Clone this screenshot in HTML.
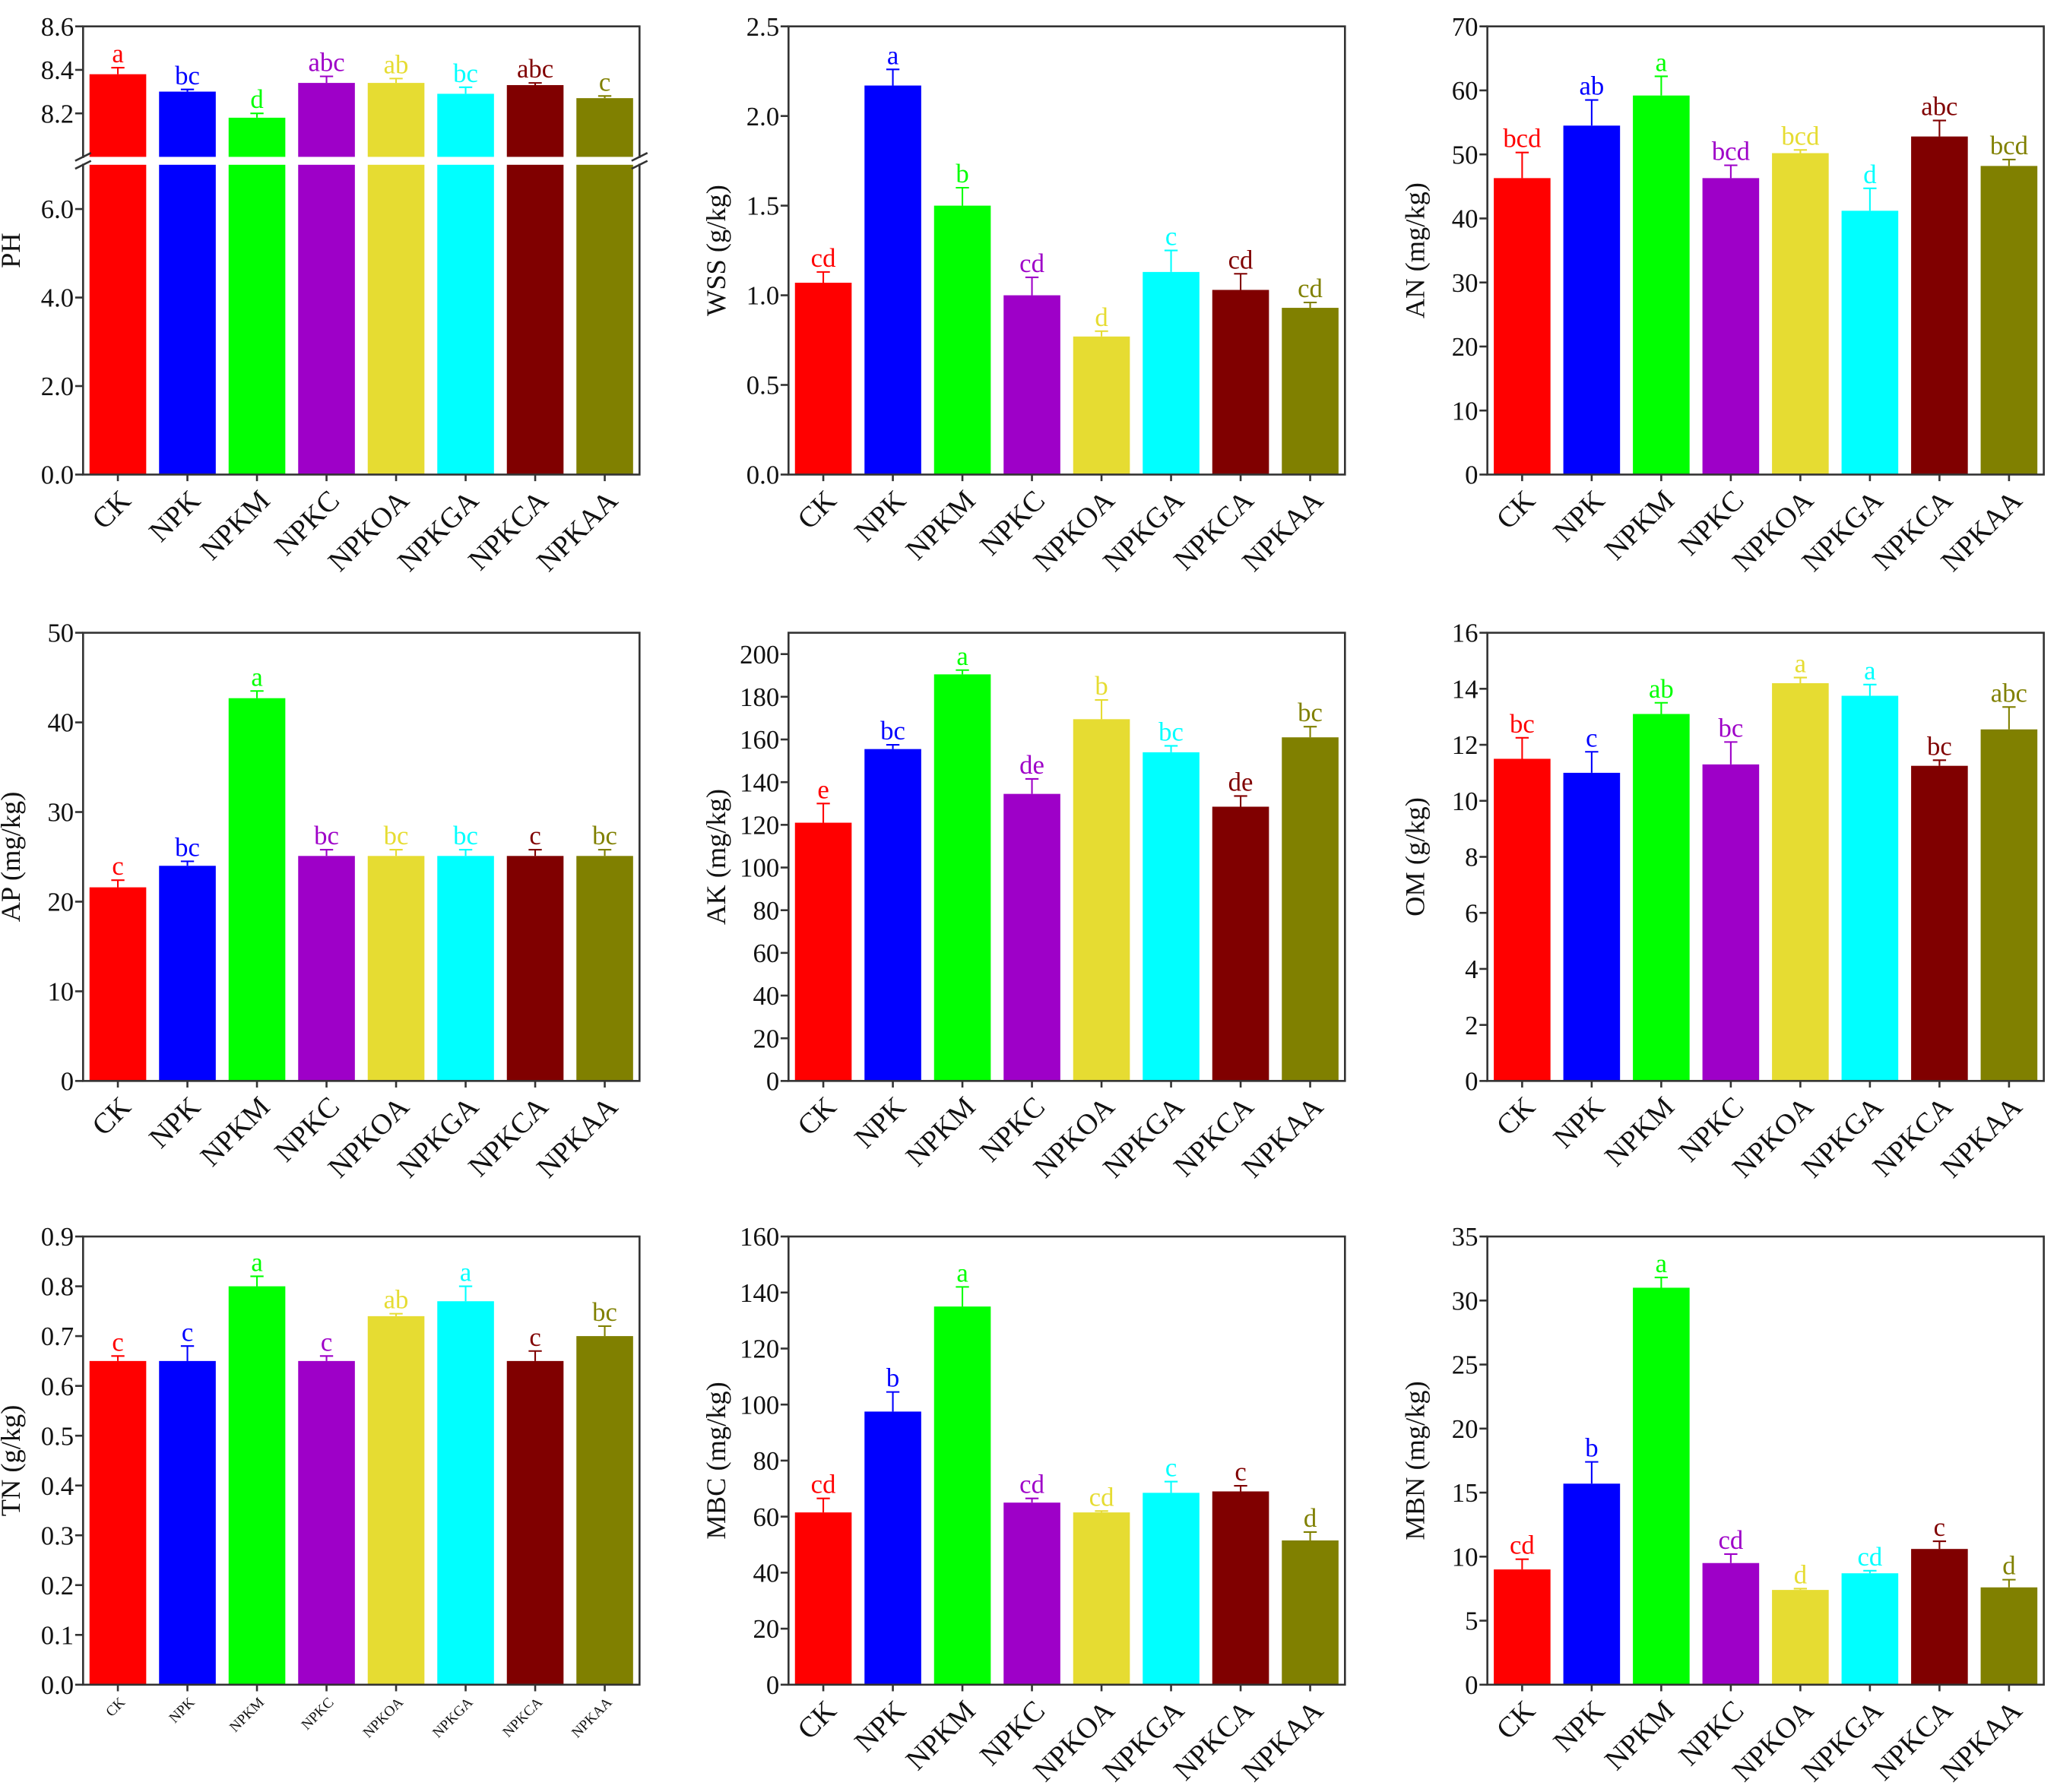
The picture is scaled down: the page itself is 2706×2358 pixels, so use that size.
<!DOCTYPE html>
<html><head><meta charset="utf-8"><style>
html,body{margin:0;padding:0;background:#fff}
svg{display:block}
text{font-family:"Liberation Serif",serif}
</style></head><body>
<svg id="fig" width="2706" height="2358" viewBox="0 0 1560 1359.4" xmlns="http://www.w3.org/2000/svg"></svg>
<script>
const categories=["CK","NPK","NPKM","NPKC","NPKOA","NPKGA","NPKCA","NPKAA"];
const colors=["#ff0000","#0000ff","#00ff00","#9e00c8","#e6dc32","#00ffff","#800000","#808000"];
const phValues=[8.38,8.30,8.18,8.34,8.34,8.29,8.33,8.27];
const phErr=[0.03,0.01,0.02,0.03,0.02,0.03,0.01,0.01];
const phLetters=["a","bc","d","abc","ab","bc","abc","c"];
const wssValues=[1.07,2.17,1.50,1.00,0.77,1.13,1.03,0.93];
const wssErr=[0.06,0.09,0.10,0.10,0.03,0.12,0.09,0.03];
const wssLetters=["cd","a","b","cd","d","c","cd","cd"];
const anValues=[46.3,54.5,59.2,46.3,50.2,41.2,52.8,48.2];
const anErr=[4,4,3,2,0.5,3.5,2.5,1];
const anLetters=["bcd","ab","a","bcd","bcd","d","abc","bcd"];
const apValues=[21.6,24.0,42.7,25.1,25.1,25.1,25.1,25.1];
const apErr=[0.8,0.5,0.8,0.7,0.7,0.7,0.7,0.7];
const apLetters=["c","bc","a","bc","bc","bc","c","bc"];
const akValues=[121,155.5,190.5,134.5,169.5,154,128.5,161];
const akErr=[9,2,2,7,9,3,5,5];
const akLetters=["e","bc","a","de","b","bc","de","bc"];
const omValues=[11.5,11.0,13.1,11.3,14.2,13.75,11.25,12.55];
const omErr=[0.75,0.75,0.4,0.8,0.2,0.4,0.2,0.8];
const omLetters=["bc","c","ab","bc","a","a","bc","abc"];
const tnValues=[0.65,0.65,0.80,0.65,0.74,0.77,0.65,0.70];
const tnErr=[0.01,0.03,0.02,0.01,0.005,0.03,0.02,0.02];
const tnLetters=["c","c","a","c","ab","a","c","bc"];
const mbcValues=[61.5,97.5,135,65,61.5,68.5,69,51.5];
const mbcErr=[5,7,7,1.5,0.5,4,2,3];
const mbcLetters=["cd","b","a","cd","cd","c","c","d"];
const mbnValues=[9.0,15.7,31.0,9.5,7.4,8.7,10.6,7.6];
const mbnErr=[0.8,1.7,0.8,0.7,0.1,0.2,0.6,0.6];
const mbnLetters=["cd","b","a","cd","d","cd","c","d"];
const wssTicks=[0,0.5,1.0,1.5,2.0,2.5];
const anTicks=[0,10,20,30,40,50,60,70];
const apTicks=[0,10,20,30,40,50];
const akTicks=[0,20,40,60,80,100,120,140,160,180,200];
const omTicks=[0,2,4,6,8,10,12,14,16];
const tnTicks=[0,0.1,0.2,0.3,0.4,0.5,0.6,0.7,0.8,0.9];
const mbcTicks=[0,20,40,60,80,100,120,140,160];
const mbnTicks=[0,5,10,15,20,25,30,35];

const NS="http://www.w3.org/2000/svg";
const svg=document.getElementById("fig");
function el(tag,attrs,parent){const e=document.createElementNS(NS,tag);for(const k in attrs)e.setAttribute(k,attrs[k]);(parent||svg).appendChild(e);return e;}

function panel(o){
  const g=el("g",{});
  
  
  const L=o.x,R=o.x+422,T=o.y,B=o.y+340;
  const slot=(R-L)/8,bw=43;
  const xc=i=>L+slot*(i+0.5);
  const yv=o.yfn;
  o.values.forEach((v,i)=>{
    const top=yv(v);
    const r=el("rect",{x:xc(i)-bw/2,y:top,width:bw,height:B-top,fill:colors[i]},g);
    
    
    const ey=yv(v+o.err[i]);
    const eb=el("path",{d:`M${xc(i)} ${top}V${ey}M${xc(i)-5} ${ey}H${xc(i)+5}`,stroke:colors[i],"stroke-width":1.2,fill:"none"},g);
    
    
    const t=el("text",{x:xc(i),y:ey-4,"text-anchor":"middle","font-size":20,fill:colors[i]},g);
    t.textContent=o.letters[i];
    
    
  });
  if(o.broken){
    el("rect",{x:L-8,y:o.broken[0],width:R-L+16,height:o.broken[1]-o.broken[0],fill:"#fff"},g);
  }
  const fr=el("rect",{x:L,y:T,width:R-L,height:B-T,fill:"none",stroke:"#333","stroke-width":1.5},g);
  
  
  if(o.broken){
    el("rect",{x:L-4,y:o.broken[0]+0.8,width:R-L+8,height:o.broken[1]-o.broken[0]-1.6,fill:"#fff"},g);
    [L,R].forEach(X=>{
      el("path",{d:`M${X-6} ${o.broken[0]+3}L${X+6} ${o.broken[0]-3}M${X-6} ${o.broken[1]+3}L${X+6} ${o.broken[1]-3}`,stroke:"#333","stroke-width":1.5},g);
    });
  }
  o.ticks.forEach(tv=>{
    const y=yv(tv);
    el("line",{x1:L-6,x2:L,y1:y,y2:y,stroke:"#333","stroke-width":1.5},g);
    const t=el("text",{x:L-7,y:y+7,"text-anchor":"end","font-size":20,fill:"#111"},g);
    t.textContent=o.fmt(tv);
    
    
  });
  categories.forEach((c,i)=>{
    el("line",{x1:xc(i),x2:xc(i),y1:B,y2:B+5,stroke:"#333","stroke-width":1.5},g);
    const fs=o.small?11:22;
    const ax=xc(i)+(o.small?6:11), ay=B+(o.small?14:21);
    const t=el("text",{x:ax,y:ay,"text-anchor":"end","font-size":fs,fill:"#111",transform:`rotate(-45 ${ax} ${ay})`},g);
    t.textContent=c;
    
    
  });
  const ty=(T+B)/2, tx=L-48;
  const t=el("text",{x:tx,y:ty,"text-anchor":"middle","font-size":21,fill:"#111",transform:`rotate(-90 ${tx} ${ty})`},g);
  t.textContent=o.title;
  
  
}
function lin(T,max){return v=>T+340-v/max*340;}
const f1=v=>v.toFixed(1), f0=v=>String(v);
const phY=v=> v>=7.5 ? 20+(8.6-v)*(99/0.6) : 360-v*(235/7);
panel({name:"ph",x:63,y:20,values:phValues,err:phErr,letters:phLetters,ticks:[0,2,4,6,8.2,8.4,8.6],fmt:f1,title:"PH",yfn:phY,broken:[119,125]});
panel({name:"wss",x:598,y:20,values:wssValues,err:wssErr,letters:wssLetters,ticks:wssTicks,fmt:f1,title:"WSS (g/kg)",yfn:lin(20,2.5)});
panel({name:"an",x:1128,y:20,values:anValues,err:anErr,letters:anLetters,ticks:anTicks,fmt:f0,title:"AN (mg/kg)",yfn:lin(20,70)});
panel({name:"ap",x:63,y:480,values:apValues,err:apErr,letters:apLetters,ticks:apTicks,fmt:f0,title:"AP (mg/kg)",yfn:lin(480,50)});
panel({name:"ak",x:598,y:480,values:akValues,err:akErr,letters:akLetters,ticks:akTicks,fmt:f0,title:"AK (mg/kg)",yfn:lin(480,210)});
panel({name:"om",x:1128,y:480,values:omValues,err:omErr,letters:omLetters,ticks:omTicks,fmt:f0,title:"OM (g/kg)",yfn:lin(480,16)});
panel({name:"tn",x:63,y:938,values:tnValues,err:tnErr,letters:tnLetters,ticks:tnTicks,fmt:f1,title:"TN (g/kg)",yfn:lin(938,0.9),small:true});
panel({name:"mbc",x:598,y:938,values:mbcValues,err:mbcErr,letters:mbcLetters,ticks:mbcTicks,fmt:f0,title:"MBC (mg/kg)",yfn:lin(938,160)});
panel({name:"mbn",x:1128,y:938,values:mbnValues,err:mbnErr,letters:mbnLetters,ticks:mbnTicks,fmt:f0,title:"MBN (mg/kg)",yfn:lin(938,35)});
</script>
</body></html>
